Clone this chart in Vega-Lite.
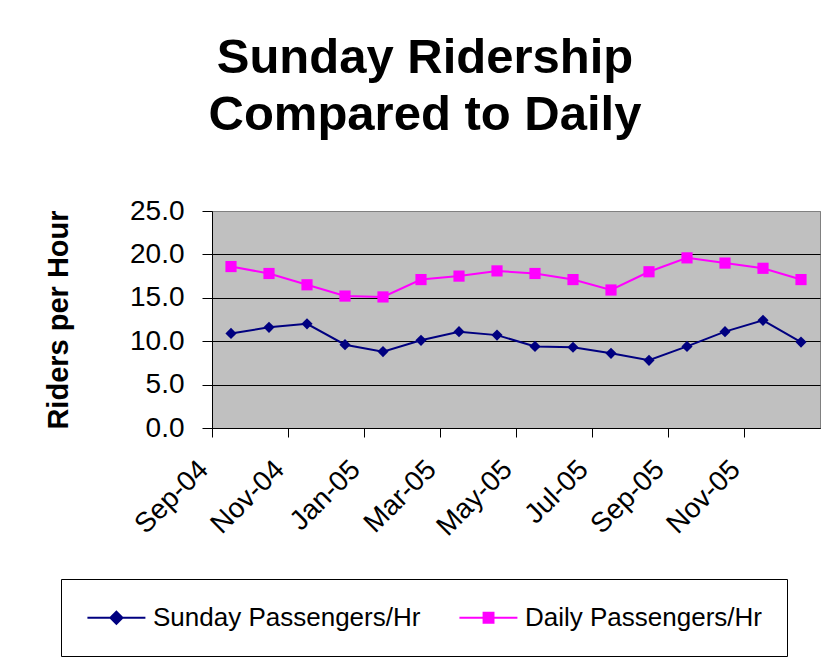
{
  "$schema": "https://vega.github.io/schema/vega-lite/v6.json",
  "width": 608,
  "height": 217,
  "autosize": "none",
  "padding": {"left": 212, "top": 211, "right": 10, "bottom": 237},
  "background": "white",
  "config": {
    "view": {"fill": "#C0C0C0", "stroke": "#808080", "strokeWidth": 1},
    "font": "Liberation Sans"
  },
  "title": {
    "text": ["Sunday Ridership", "Compared to Daily"],
    "font": "Liberation Sans",
    "fontSize": 49,
    "fontWeight": "bold",
    "color": "black",
    "anchor": "middle",
    "frame": "group",
    "dx": -91,
    "offset": 57,
    "lineHeight": 57
  },
  "data": {
    "values": [
      {"month": "Sep-04", "series": "Sunday Passengers/Hr", "value": 10.9},
      {"month": "Oct-04", "series": "Sunday Passengers/Hr", "value": 11.6},
      {"month": "Nov-04", "series": "Sunday Passengers/Hr", "value": 12.0},
      {"month": "Dec-04", "series": "Sunday Passengers/Hr", "value": 9.6},
      {"month": "Jan-05", "series": "Sunday Passengers/Hr", "value": 8.8},
      {"month": "Feb-05", "series": "Sunday Passengers/Hr", "value": 10.1},
      {"month": "Mar-05", "series": "Sunday Passengers/Hr", "value": 11.1},
      {"month": "Apr-05", "series": "Sunday Passengers/Hr", "value": 10.7},
      {"month": "May-05", "series": "Sunday Passengers/Hr", "value": 9.4},
      {"month": "Jun-05", "series": "Sunday Passengers/Hr", "value": 9.3},
      {"month": "Jul-05", "series": "Sunday Passengers/Hr", "value": 8.6},
      {"month": "Aug-05", "series": "Sunday Passengers/Hr", "value": 7.8},
      {"month": "Sep-05", "series": "Sunday Passengers/Hr", "value": 9.4},
      {"month": "Oct-05", "series": "Sunday Passengers/Hr", "value": 11.1},
      {"month": "Nov-05", "series": "Sunday Passengers/Hr", "value": 12.4},
      {"month": "Dec-05", "series": "Sunday Passengers/Hr", "value": 9.9},
      {"month": "Sep-04", "series": "Daily Passengers/Hr", "value": 18.6},
      {"month": "Oct-04", "series": "Daily Passengers/Hr", "value": 17.8},
      {"month": "Nov-04", "series": "Daily Passengers/Hr", "value": 16.5},
      {"month": "Dec-04", "series": "Daily Passengers/Hr", "value": 15.2},
      {"month": "Jan-05", "series": "Daily Passengers/Hr", "value": 15.1},
      {"month": "Feb-05", "series": "Daily Passengers/Hr", "value": 17.1},
      {"month": "Mar-05", "series": "Daily Passengers/Hr", "value": 17.5},
      {"month": "Apr-05", "series": "Daily Passengers/Hr", "value": 18.1},
      {"month": "May-05", "series": "Daily Passengers/Hr", "value": 17.8},
      {"month": "Jun-05", "series": "Daily Passengers/Hr", "value": 17.1},
      {"month": "Jul-05", "series": "Daily Passengers/Hr", "value": 15.9},
      {"month": "Aug-05", "series": "Daily Passengers/Hr", "value": 18.0},
      {"month": "Sep-05", "series": "Daily Passengers/Hr", "value": 19.6},
      {"month": "Oct-05", "series": "Daily Passengers/Hr", "value": 19.0},
      {"month": "Nov-05", "series": "Daily Passengers/Hr", "value": 18.4},
      {"month": "Dec-05", "series": "Daily Passengers/Hr", "value": 17.1}
    ]
  },
  "encoding": {
    "x": {
      "field": "month",
      "type": "ordinal",
      "sort": null,
      "bandPosition": 0.5,
      "scale": {"type": "band", "paddingInner": 0, "paddingOuter": 0},
      "axis": {
        "title": null,
        "values": ["Sep-04", "Nov-04", "Jan-05", "Mar-05", "May-05", "Jul-05", "Sep-05", "Nov-05"],
        "bandPosition": 0,
        "grid": false,
        "labelAngle": -45,
        "labelAlign": "right",
        "labelBaseline": "middle",
        "labelFont": "Liberation Sans",
        "labelFontSize": 28,
        "labelColor": "black",
        "labelPadding": 28,
        "labelOffset": -27,
        "labelOverlap": false,
        "tickSize": 9,
        "tickColor": "black",
        "domainColor": "black"
      }
    },
    "y": {
      "field": "value",
      "type": "quantitative",
      "scale": {"domain": [0, 25], "nice": false},
      "axis": {
        "title": "Riders per Hour",
        "values": [0, 5, 10, 15, 20, 25],
        "format": ".1f",
        "labelFont": "Liberation Sans",
        "labelFontSize": 28,
        "labelColor": "black",
        "labelPadding": 18,
        "labelFlush": false,
        "tickSize": 10,
        "tickColor": "black",
        "domainColor": "black",
        "gridColor": {"condition": {"test": "datum.value == 25", "value": "#808080"}, "value": "black"},
        "gridOpacity": 1,
        "titleFont": "Liberation Sans",
        "titleFontSize": 29,
        "titleFontWeight": "bold",
        "titleColor": "black",
        "titleAngle": -90,
        "titleAlign": "center",
        "titleBaseline": "middle",
        "titleX": -154,
        "titleY": 108.5
      }
    },
    "color": {
      "field": "series",
      "type": "nominal",
      "scale": {
        "domain": ["Sunday Passengers/Hr", "Daily Passengers/Hr"],
        "range": ["#000080", "#FF00FF"]
      },
      "legend": {
        "title": null,
        "orient": "none",
        "legendX": -151,
        "legendY": 368,
        "direction": "horizontal",
        "strokeColor": "black",
        "fillColor": "white",
        "padding": 25,
        "columnPadding": 34,
        "labelFont": "Liberation Sans",
        "labelFontSize": 26,
        "labelColor": "black",
        "labelOffset": 40,
        "labelLimit": 400,
        "symbolSize": 584,
        "symbolStrokeWidth": 2,
        "encode": {
          "symbols": {
            "update": {
              "shape": {"signal": "datum.value === 'Sunday Passengers/Hr' ? 'M-1,0L3.8,0M1.4,-0.5L1.9,0L1.4,0.5L0.9,0Z' : 'M-1,0L3.8,0M1.0,-0.42L1.82,-0.42L1.82,0.42L1.0,0.42Z'"},
              "fill": {"scale": "color", "field": "value"},
              "stroke": {"scale": "color", "field": "value"},
              "strokeWidth": {"value": 2},
              "size": {"value": 584},
              "opacity": {"value": 1}
            }
          }
        }
      }
    }
  },
  "layer": [
    {"mark": {"type": "line", "strokeWidth": 2}},
    {
      "mark": {"type": "point", "filled": true, "opacity": 1, "size": 125},
      "encoding": {
        "shape": {
          "condition": {"test": "datum.series === 'Sunday Passengers/Hr'", "value": "diamond"},
          "value": "square"
        }
      }
    }
  ]
}
